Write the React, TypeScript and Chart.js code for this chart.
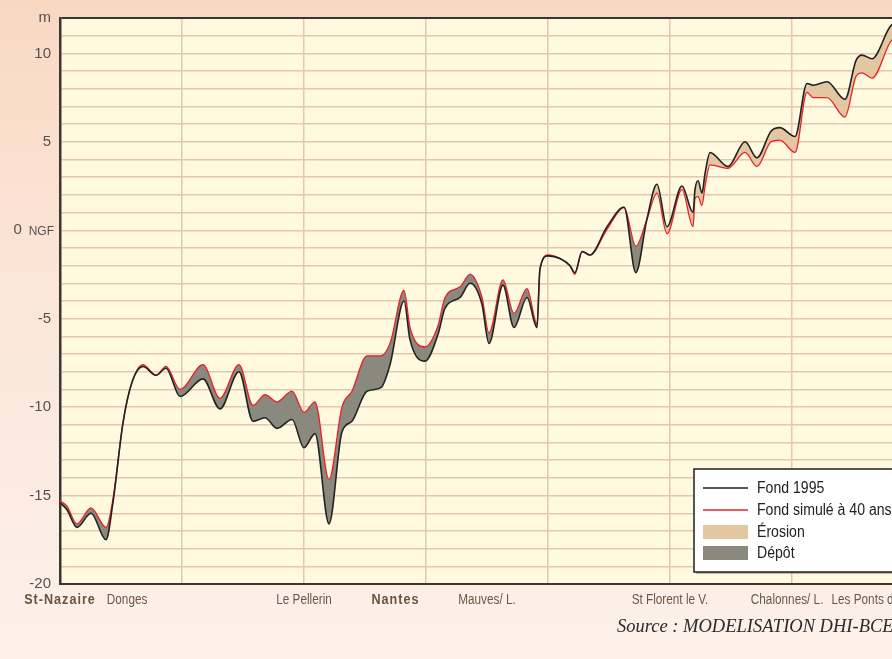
import React, { useEffect, useRef } from "react";
import { Chart, registerables } from "chart.js";

Chart.register(...registerables);

// Distance along the estuary (arbitrary km-like units, 10 per grid column)
const distance = [
  0, 0.57, 1.39, 2.54, 3.77, 4.34, 5.16, 5.9, 6.8, 7.87, 8.69, 9.84, 11.72, 13.11, 14.67,
  15.82, 16.8, 17.79, 19.02, 20.0, 20.9, 22.05, 23.11, 23.93, 25.16, 26.3, 27.05, 28.2,
  28.69, 29.92, 30.98, 31.56, 32.79, 33.61, 34.59, 35.16, 36.31, 37.21, 38.28, 39.1,
  39.34, 40.0, 40.98, 41.8, 42.2, 42.8, 43.44, 44.84, 46.23, 47.2, 48.1, 48.93, 49.75,
  50.98, 51.89, 52.05, 52.3, 52.62, 52.87, 53.28, 54.75, 56.15, 57.13, 58.28, 59.0,
  60.25, 61.23, 61.72, 62.87, 64.34, 65.25, 65.74, 66.56, 68.03, 68.85,
];

// Fond 1995 (m NGF)
const fond1995 = [
  -15.4, -15.8, -16.8, -16.0, -17.5, -15.4, -10.9, -8.6, -7.7, -8.2, -7.8, -9.4, -8.4,
  -10.1, -8.0, -10.8, -10.6, -11.2, -10.7, -12.3, -11.5, -16.6, -11.4, -10.8, -9.1, -8.9,
  -7.6, -4.0, -6.2, -7.4, -5.9, -4.4, -3.8, -3.0, -4.2, -6.4, -3.1, -5.5, -3.8, -5.5,
  -2.2, -1.45, -1.6, -2.0, -2.4, -1.2, -1.4, 0.2, 1.3, -2.4, 0.6, 2.6, 0.2, 2.5, 1.0,
  2.3, 2.8, 2.1, 3.2, 4.4, 3.6, 5.0, 4.1, 5.6, 5.8, 5.3, 8.3, 8.2, 8.4, 7.4, 9.6, 9.9,
  9.7, 11.5, 12.0,
];

// Fond simulé à 40 ans (m NGF)
const fondSimule = [
  -15.3, -15.6, -16.6, -15.7, -16.8, -15.2, -10.9, -8.6, -7.6, -8.2, -7.7, -9.0, -7.6,
  -9.5, -7.6, -9.9, -9.3, -9.7, -9.1, -10.3, -9.7, -14.1, -10.0, -9.1, -7.1, -7.1, -6.4,
  -3.4, -5.5, -6.6, -5.4, -3.8, -3.2, -2.5, -3.8, -5.8, -2.8, -4.7, -3.3, -5.3, -2.2,
  -1.4, -1.6, -2.0, -2.5, -1.2, -1.4, 0.05, 1.3, -0.9, 0.6, 2.1, -0.2, 2.3, 0.2, 1.8,
  1.9, 1.4, 2.5, 3.7, 3.5, 4.4, 3.6, 5.0, 5.1, 4.4, 7.8, 7.5, 7.5, 6.4, 8.7, 8.9, 8.6,
  10.6, 11.2,
];

const placeNames = [
  "St-Nazaire", "Donges", "Le Pellerin", "Nantes", "Mauves/ L.", "St Florent le V.",
  "Chalonnes/ L.", "Les Ponts de Cé",
];
const placePositions = [0, 5.5, 20, 27.5, 35, 50, 59.6, 66.8];
const placeBold = [true, false, false, true, false, false, false, false];

const legendLabels = ["Fond 1995", "Fond simulé à 40 ans", "Érosion", "Dépôt"];
const sourceText = "Source : MODELISATION DHI-BCEOM";

const COL_BLACK = "#222222";
const COL_RED = "#E8202A";
const COL_EROSION = "#E3C7A1";
const COL_DEPOT = "#898A7D";
const COL_GRID = "#E5C7AE";
const COL_FRAME = "#3A3632";
const SANS = '"Liberation Sans", Arial, sans-serif';

function narrowText(ctx: any, text: string, x: number, y: number, sx: number, align: string) {
  ctx.save();
  ctx.translate(x, y);
  ctx.scale(sx, 1);
  ctx.textAlign = align;
  ctx.fillText(text, 0, 0);
  ctx.restore();
}

const decorPlugin = {
  id: "decor",
  beforeDraw(chart: any) {
    const { ctx, chartArea } = chart;
    ctx.save();
    ctx.fillStyle = "#FEF9DF";
    ctx.fillRect(chartArea.left, chartArea.top, chartArea.right - chartArea.left, chartArea.bottom - chartArea.top);
    ctx.restore();
  },
  afterDraw(chart: any) {
    const { ctx, chartArea, scales } = chart;
    const xs = scales.x;
    const ys = scales.y;
    ctx.save();
    // "NGF" suffix of the zero label
    ctx.font = `12px ${SANS}`;
    ctx.fillStyle = "#555050";
    ctx.textBaseline = "middle";
    ctx.textAlign = "right";
    ctx.fillText("NGF", 54, ys.getPixelForValue(0) + 1);

    // place names under the axis
    ctx.textBaseline = "alphabetic";
    placeNames.forEach((name, i) => {
      const px = xs.getPixelForValue(placePositions[i]);
      if (placeBold[i]) {
        ctx.font = `bold 15px ${SANS}`;
        ctx.fillStyle = "#6A5240";
        (ctx as any).letterSpacing = "1.2px";
      } else {
        ctx.font = `14px ${SANS}`;
        ctx.fillStyle = "#6E5646";
        (ctx as any).letterSpacing = "0px";
      }
      narrowText(ctx, name, px, chartArea.bottom + 20, 0.84, "center");
    });
    (ctx as any).letterSpacing = "0px";

    // legend box
    const bx = 694, by = 469, bw = 260, bh = 103;
    ctx.fillStyle = "rgba(0,0,0,0.25)";
    ctx.fillRect(bx + 2, by + 2, bw, bh);
    ctx.fillStyle = "#FFFFFF";
    ctx.fillRect(bx, by, bw, bh);
    ctx.strokeStyle = "#1E1E1E";
    ctx.lineWidth = 1.5;
    ctx.strokeRect(bx, by, bw, bh);
    const rows = [488, 510, 532, 553];
    const sw0 = 703, sw1 = 748;
    ctx.lineWidth = 1.3;
    ctx.strokeStyle = COL_BLACK;
    ctx.beginPath(); ctx.moveTo(sw0, rows[0]); ctx.lineTo(sw1, rows[0]); ctx.stroke();
    ctx.strokeStyle = COL_RED;
    ctx.beginPath(); ctx.moveTo(sw0, rows[1]); ctx.lineTo(sw1, rows[1]); ctx.stroke();
    ctx.fillStyle = COL_EROSION;
    ctx.fillRect(sw0, rows[2] - 7, sw1 - sw0, 14);
    ctx.fillStyle = COL_DEPOT;
    ctx.fillRect(sw0, rows[3] - 7, sw1 - sw0, 14);
    ctx.fillStyle = "#222222";
    ctx.font = `16px ${SANS}`;
    ctx.textBaseline = "middle";
    legendLabels.forEach((t, i) => narrowText(ctx, t, 757, rows[i] + 1, 0.88, "left"));

    // source
    ctx.font = 'italic 18.5px "Liberation Serif", serif';
    ctx.fillStyle = "#2A2A2A";
    ctx.textAlign = "left";
    ctx.textBaseline = "alphabetic";
    ctx.fillText(sourceText, 617, 632);
    ctx.restore();
  },
};

export default function App() {
  const ref = useRef<HTMLCanvasElement | null>(null);
  useEffect(() => {
    if (!ref.current) return;
    const pts = (ys: number[]) => distance.map((x, i) => ({ x, y: ys[i] }));
    const chart = new Chart(ref.current, {
      type: "line",
      data: {
        datasets: [
          {
            label: legendLabels[0],
            data: pts(fond1995),
            borderColor: COL_BLACK,
            borderWidth: 1.6,
            pointRadius: 0,
            cubicInterpolationMode: "monotone",
            fill: false,
          },
          {
            label: legendLabels[1],
            data: pts(fondSimule),
            borderColor: COL_RED,
            borderWidth: 1.3,
            pointRadius: 0,
            cubicInterpolationMode: "monotone",
            fill: { target: 0, above: COL_DEPOT, below: COL_EROSION },
          },
        ],
      },
      options: {
        responsive: false,
        animation: false,
        layout: { padding: { top: 18, right: 16, bottom: 75, left: 0 } },
        plugins: { legend: { display: false }, tooltip: { enabled: false } },
        scales: {
          x: {
            type: "linear",
            min: 0,
            max: 70,
            ticks: { display: false, stepSize: 10 },
            grid: { color: COL_GRID, lineWidth: 1.5, drawTicks: false },
            border: { display: true, color: COL_FRAME, width: 2 },
            afterFit: (s: any) => { s.height = 0; },
          },
          y: {
            min: -20,
            max: 12,
            ticks: {
              stepSize: 1,
              autoSkip: false,
              padding: 9,
              color: "#555050",
              font: { family: SANS, size: 15 },
              callback: (v: any) => {
                if (v === 12) return "m";
                if (v === 0) return "0       ";
                return v % 5 === 0 ? String(v) : "";
              },
            },
            grid: {
              drawTicks: false,
              color: (c: any) => (c.tick && c.tick.value === 12 ? COL_FRAME : COL_GRID),
              lineWidth: (c: any) => (c.tick && c.tick.value === 12 ? 2 : 1.5),
            },
            border: { display: true, color: COL_FRAME, width: 2.5 },
            afterFit: (s: any) => { s.width = 60; },
          },
        },
      },
      plugins: [decorPlugin],
    });
    return () => chart.destroy();
  }, []);

  return (
    <div
      style={{
        position: "fixed",
        left: 0,
        top: 0,
        width: 892,
        height: 659,
        overflow: "hidden",
        background: "linear-gradient(180deg, #F9D8C2 0%, #FBE6D9 45%, #FDF1EA 100%)",
      }}
    >
      <canvas ref={ref} width={930} height={659} style={{ display: "block", width: 930, height: 659 }} />
    </div>
  );
}
